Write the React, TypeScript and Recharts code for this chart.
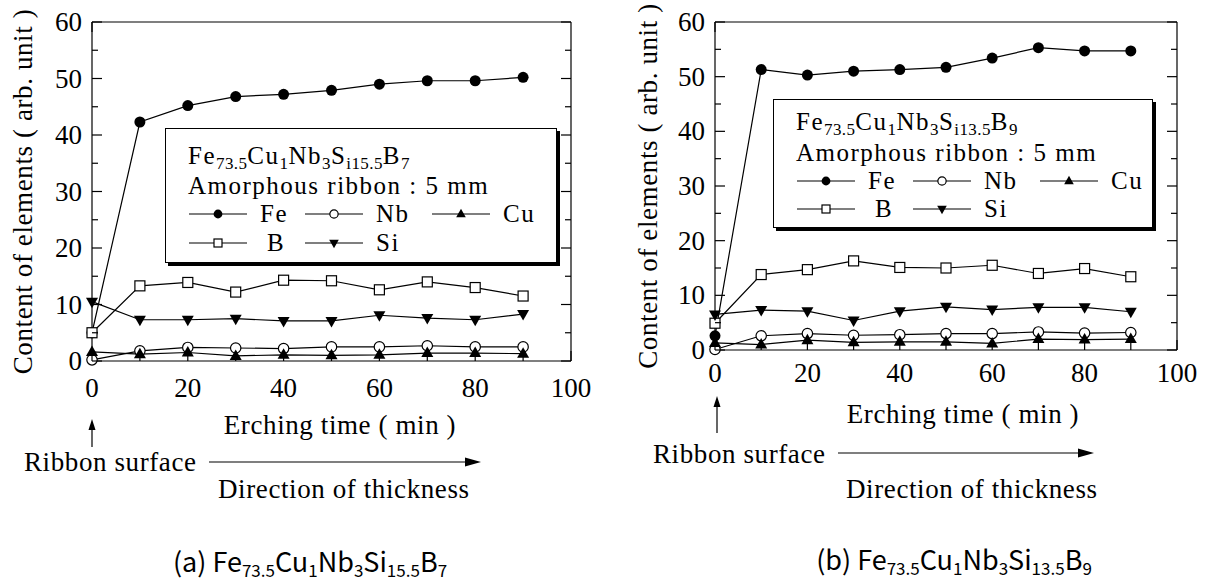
import React from "react";
import { LineChart, Line, XAxis, YAxis, Legend } from "recharts";

const TIME = [0, 10, 20, 30, 40, 50, 60, 70, 80, 90];

// (a) Fe73.5Cu1Nb3Si15.5B7
const FE_A = [5.0, 42.3, 45.2, 46.8, 47.2, 47.9, 49.0, 49.6, 49.6, 50.2];
const NB_A = [0.2, 1.8, 2.4, 2.3, 2.2, 2.5, 2.5, 2.7, 2.5, 2.5];
const CU_A = [1.6, 1.2, 1.5, 0.9, 1.1, 1.0, 1.1, 1.4, 1.4, 1.3];
const B_A = [5.0, 13.3, 13.9, 12.2, 14.3, 14.2, 12.6, 14.0, 13.0, 11.5];
const SI_A = [10.5, 7.3, 7.3, 7.5, 7.1, 7.1, 8.1, 7.6, 7.3, 8.3];

// (b) Fe73.5Cu1Nb3Si13.5B9
const FE_B = [2.6, 51.3, 50.3, 51.0, 51.3, 51.7, 53.4, 55.3, 54.7, 54.7];
const NB_B = [0.1, 2.6, 3.0, 2.7, 2.8, 3.0, 3.0, 3.3, 3.1, 3.2];
const CU_B = [1.3, 1.0, 1.8, 1.4, 1.5, 1.5, 1.2, 2.0, 1.9, 2.0];
const B_B = [4.9, 13.8, 14.7, 16.3, 15.1, 15.0, 15.5, 14.0, 14.9, 13.4];
const SI_B = [6.5, 7.3, 7.1, 5.4, 7.1, 7.9, 7.4, 7.8, 7.8, 7.0];

const X_TICKS = [0, 10, 20, 30, 40, 50, 60, 70, 80, 90, 100];
const Y_TICKS = [0, 5, 10, 15, 20, 25, 30, 35, 40, 45, 50, 55, 60];

const SERIES = [
  { key: "fe", name: "Fe", shape: "disc" },
  { key: "nb", name: "Nb", shape: "ring" },
  { key: "cu", name: "Cu", shape: "up" },
  { key: "b", name: "B", shape: "square" },
  { key: "si", name: "Si", shape: "down" },
];

const FORMULA_A = [["Fe", 0], ["73.5", 1], ["Cu", 0], ["1", 1], ["Nb", 0], ["3", 1], ["S", 0], ["i15.5", 1], ["B", 0], ["7", 1]];
const FORMULA_B = [["Fe", 0], ["73.5", 1], ["Cu", 0], ["1", 1], ["Nb", 0], ["3", 1], ["S", 0], ["i13.5", 1], ["B", 0], ["9", 1]];
const CAPTION_A = [["(a) Fe", 0], ["73.5", 1], ["Cu", 0], ["1", 1], ["Nb", 0], ["3", 1], ["Si", 0], ["15.5", 1], ["B", 0], ["7", 1]];
const CAPTION_B = [["(b) Fe", 0], ["73.5", 1], ["Cu", 0], ["1", 1], ["Nb", 0], ["3", 1], ["Si", 0], ["13.5", 1], ["B", 0], ["9", 1]];

const SERIF = "Liberation Serif";
const SANS = "Noto Sans CJK JP";
const H = 584;

const toRows = (fe: number[], nb: number[], cu: number[], b: number[], si: number[]) =>
  TIME.map((t, i) => ({ t, fe: fe[i], nb: nb[i], cu: cu[i], b: b[i], si: si[i] }));

const Marker = ({ kind, cx, cy, s = 1 }: any) => {
  if (cx == null || cy == null) return null;
  switch (kind) {
    case "disc":
      return <circle cx={cx} cy={cy} r={5.5 * s} fill="#000" />;
    case "ring":
      return <circle cx={cx} cy={cy} r={5.2 * s} fill="#fff" stroke="#000" strokeWidth={1.2} />;
    case "up":
      return <polygon points={`${cx},${cy - 6.5 * s} ${cx + 6 * s},${cy + 4 * s} ${cx - 6 * s},${cy + 4 * s}`} fill="#000" />;
    case "square":
      return <rect x={cx - 5 * s} y={cy - 5 * s} width={10 * s} height={10 * s} fill="#fff" stroke="#000" strokeWidth={1.2} />;
    default:
      return <polygon points={`${cx - 6 * s},${cy - 4 * s} ${cx + 6 * s},${cy - 4 * s} ${cx},${cy + 6.5 * s}`} fill="#000" />;
  }
};

const BottomTick = (props: any) => {
  const { x, y, payload, labelDy } = props;
  const v = payload.value;
  return (
    <g>
      <line x1={x} x2={x} y1={y} y2={y - 10} stroke="#000" strokeWidth={1.2} />
      {v % 20 === 0 && (
        <text x={x} y={y + labelDy} textAnchor="middle" dominantBaseline="central" style={{ fontFamily: SERIF }} fontSize={27} fill="#000">
          {v}
        </text>
      )}
    </g>
  );
};

const TopTick = ({ x, y }: any) => <line x1={x} x2={x} y1={y} y2={y + 10} stroke="#000" strokeWidth={1.2} />;

const LeftTick = ({ x, y, payload }: any) => {
  const major = payload.value % 10 === 0;
  return (
    <g>
      <line x1={x} x2={x + (major ? 10 : 6)} y1={y} y2={y} stroke="#000" strokeWidth={1.2} />
      {major && (
        <text x={x - 10} y={y} textAnchor="end" dominantBaseline="central" style={{ fontFamily: SERIF }} fontSize={27} fill="#000">
          {payload.value}
        </text>
      )}
    </g>
  );
};

const RightTick = ({ x, y, payload }: any) => {
  const major = payload.value % 10 === 0;
  return <line x1={x} x2={x - (major ? 10 : 6)} y1={y} y2={y} stroke="#000" strokeWidth={1.2} />;
};

const YTitle = ({ posX, posY }: any) => (
  <text x={posX} y={posY} transform={`rotate(-90 ${posX} ${posY})`} textAnchor="middle" dominantBaseline="central"
    style={{ fontFamily: SERIF, letterSpacing: "0.6px" }} fontSize={27} fill="#000">
    Content of elements ( arb. unit )
  </text>
);

const XTitle = ({ posX, posY }: any) => (
  <text x={posX} y={posY} textAnchor="middle" style={{ fontFamily: SERIF, letterSpacing: "0.6px" }} fontSize={27} fill="#000">
    Erching time ( min )
  </text>
);

const LegendSym = ({ kind }: any) => (
  <svg width={58} height={16} style={{ display: "block" }}>
    <line x1={0} x2={58} y1={8} y2={8} stroke="#000" strokeWidth={1.2} />
    <Marker kind={kind} cx={29} cy={8} s={0.8} />
  </svg>
);

const LegendBox = ({ w, h, rows, formula }: any) => {
  const txt = (top: number, left: number, children: any) => (
    <div style={{ position: "absolute", left, top: top - 13, height: 26, lineHeight: "26px", whiteSpace: "nowrap" }}>{children}</div>
  );
  const sym = (top: number, left: number, kind: string) => (
    <div style={{ position: "absolute", left, top: top - 8 }}>
      <LegendSym kind={kind} />
    </div>
  );
  return (
    <div style={{ position: "relative", width: w, height: h }}>
      <div style={{ position: "absolute", left: 3, top: 3, width: w, height: h, background: "#000" }} />
      <div style={{
        position: "absolute", left: 0, top: 0, width: w, height: h, background: "#fff",
        border: "1.2px solid #000", boxSizing: "border-box", fontFamily: SERIF, fontSize: 25,
        letterSpacing: 1.5, color: "#000",
      }}>
        {txt(rows[0] - 2, 22, formula.map(([s, sub]: any, i: number) =>
          sub ? <span key={i} style={{ fontSize: 17, position: "relative", top: 5, letterSpacing: 0.4 }}>{s}</span> : <span key={i}>{s}</span>
        ))}
        {txt(rows[1], 22, "Amorphous ribbon : 5 mm")}
        {sym(rows[2], 23, "disc")}
        {txt(rows[2], 94, "Fe")}
        {sym(rows[2], 139, "ring")}
        {txt(rows[2], 210, "Nb")}
        {sym(rows[2], 266, "up")}
        {txt(rows[2], 337, "Cu")}
        {sym(rows[3], 23, "square")}
        {txt(rows[3], 101, "B")}
        {sym(rows[3], 139, "down")}
        {txt(rows[3], 210, "Si")}
      </div>
    </div>
  );
};

const Panel = ({ cfg }: any) => {
  const { left, width, plot, data, legend, notes, caption, formula } = cfg;
  const p = plot;
  const n = notes;
  return (
    <div style={{ position: "absolute", left, top: 0, width, height: H }}>
      <LineChart width={width} height={H} data={data} margin={{ top: 0, right: 0, bottom: 0, left: 0 }}>
        <XAxis xAxisId="bottom" dataKey="t" type="number" domain={[0, 100]} ticks={X_TICKS} interval={0}
          height={H - p.b} tickSize={0} tickMargin={0} tickLine={false}
          axisLine={{ stroke: "#000", strokeWidth: 1.2 }}
          tick={(tp: any) => <BottomTick {...tp} labelDy={n.tickDy} />}
          label={<XTitle posX={n.titleX} posY={n.titleY} />} />
        <XAxis xAxisId="top" orientation="top" type="number" domain={[0, 100]} ticks={X_TICKS} interval={0}
          allowDataOverflow height={p.t} tickSize={0} tickMargin={0} tickLine={false}
          axisLine={{ stroke: "#000", strokeWidth: 1.2 }} tick={<TopTick />} />
        <YAxis yAxisId="left" type="number" domain={[0, 60]} ticks={Y_TICKS} interval={0}
          width={p.l} tickSize={0} tickMargin={0} tickLine={false}
          axisLine={{ stroke: "#000", strokeWidth: 1.2 }} tick={<LeftTick />}
          label={<YTitle posX={n.yTitleX} posY={(p.t + p.b) / 2} />} />
        <YAxis yAxisId="right" orientation="right" type="number" domain={[0, 60]} ticks={Y_TICKS} interval={0}
          allowDataOverflow width={width - p.r} tickSize={0} tickMargin={0} tickLine={false}
          axisLine={{ stroke: "#000", strokeWidth: 1.2 }} tick={<RightTick />} />
        {SERIES.map((s) => (
          <Line key={s.key} xAxisId="bottom" yAxisId="left" dataKey={s.key} name={s.name} stroke="#000"
            strokeWidth={1.2} isAnimationActive={false} activeDot={false}
            dot={(dp: any) => <Marker key={`${s.key}-${dp.index}`} kind={s.shape} cx={dp.cx} cy={dp.cy} />} />
        ))}
        <Legend layout="vertical" align="center" verticalAlign="middle"
          wrapperStyle={{ left: legend.x, top: legend.y, width: legend.w + 4, height: legend.h + 4 }}
          content={() => <LegendBox w={legend.w} h={legend.h} rows={legend.rows} formula={formula} />} />
      </LineChart>
      <svg width={width} height={H} style={{ position: "absolute", left: 0, top: 0, pointerEvents: "none" }}>
        <line x1={n.upX} x2={n.upX} y1={n.upBottom} y2={n.upTip + 10} stroke="#000" strokeWidth={1.2} />
        <polygon points={`${n.upX},${n.upTip} ${n.upX + 3.5},${n.upTip + 11} ${n.upX - 3.5},${n.upTip + 11}`} fill="#000" />
        <text x={n.ribbonX} y={n.ribbonY} style={{ fontFamily: SERIF, letterSpacing: "0.6px" }} fontSize={27} fill="#000">Ribbon surface</text>
        <line x1={n.arrowX1} x2={n.arrowX2 - 14} y1={n.arrowY} y2={n.arrowY} stroke="#000" strokeWidth={1.2} />
        <polygon points={`${n.arrowX2},${n.arrowY} ${n.arrowX2 - 16},${n.arrowY - 4.5} ${n.arrowX2 - 16},${n.arrowY + 4.5}`} fill="#000" />
        <text x={n.dirX} y={n.dirY} style={{ fontFamily: SERIF, letterSpacing: "0.6px" }} fontSize={27} fill="#000">Direction of thickness</text>
        <text x={n.capX} y={n.capY} textAnchor="middle" style={{ fontFamily: SANS }} fontSize={27} fill="#000">
          {caption.map(([s, sub]: any, i: number) => {
            const prev = i > 0 && caption[i - 1][1];
            return (
              <tspan key={i} fontSize={sub ? 17 : 27} dy={sub ? 5 : prev ? -5 : 0}>{s}</tspan>
            );
          })}
        </text>
      </svg>
    </div>
  );
};

const PANEL_A = {
  left: 0,
  width: 600,
  plot: { l: 92, r: 571, t: 22, b: 361 },
  data: toRows(FE_A, NB_A, CU_A, B_A, SI_A),
  formula: FORMULA_A,
  caption: CAPTION_A,
  legend: { x: 165, y: 128, w: 392, h: 135, rows: [29, 57, 85, 114] },
  notes: {
    tickDy: 27, titleX: 340, titleY: 434, yTitleX: 23,
    upX: 92, upTip: 419, upBottom: 447,
    ribbonX: 24, ribbonY: 471, arrowX1: 209, arrowX2: 481, arrowY: 462,
    dirX: 218, dirY: 498, capX: 310, capY: 572,
  },
};

const PANEL_B = {
  left: 600,
  width: 606,
  plot: { l: 115, r: 577, t: 22, b: 350 },
  data: toRows(FE_B, NB_B, CU_B, B_B, SI_B),
  formula: FORMULA_B,
  caption: CAPTION_B,
  legend: { x: 173, y: 99, w: 380, h: 129, rows: [24, 53, 81, 109] },
  notes: {
    tickDy: 23, titleX: 363, titleY: 423, yTitleX: 48,
    upX: 117, upTip: 396, upBottom: 433,
    ribbonX: 53, ribbonY: 463, arrowX1: 238, arrowX2: 494, arrowY: 453,
    dirX: 246, dirY: 498, capX: 354, capY: 570,
  },
};

export default function App() {
  return (
    <div style={{ position: "absolute", left: 0, top: 0, width: 1206, height: H, background: "#fff", overflow: "hidden" }}>
      <Panel cfg={PANEL_A} />
      <Panel cfg={PANEL_B} />
    </div>
  );
}
